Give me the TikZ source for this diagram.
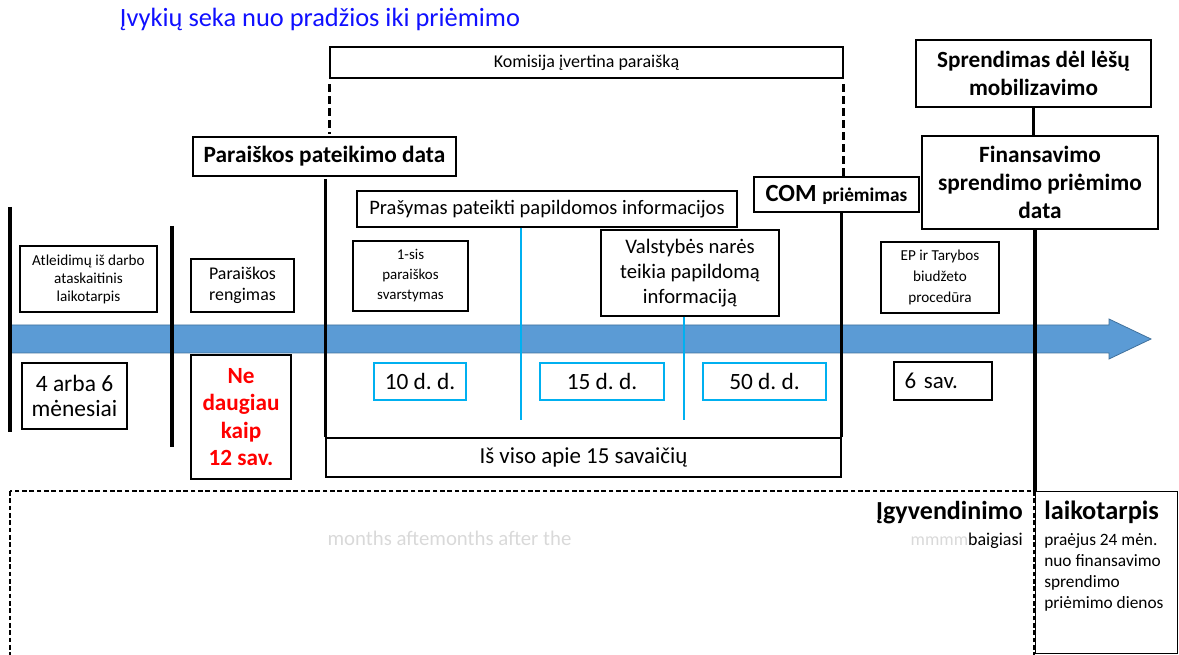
\documentclass[tikz,border=0pt]{standalone}
\usepackage{fontspec}
\setmainfont{Carlito}
\definecolor{band}{HTML}{5B9BD5}
\definecolor{bandedge}{HTML}{41719C}
\definecolor{lblue}{HTML}{00B0F0}
\definecolor{ghost}{gray}{0.85}
\definecolor{titleblue}{HTML}{1010FF}
\newcommand\myfs[2]{\fontsize{#1}{#2}\selectfont}
\frenchspacing
\begin{document}
\begin{tikzpicture}[x=0.75pt,y=-0.75pt,
  box/.style={draw, line width=1.1pt, inner sep=0pt, align=center},
  bbox/.style={draw=lblue, line width=1.2pt, inner sep=0pt, align=center},
  vline/.style={line width=2.3pt},
  dline/.style={line width=2.3pt, dash pattern=on 6pt off 3pt},
  bline/.style={draw=lblue, line width=2.2pt}]
\useasboundingbox (0,0) rectangle (1179,655);
\begin{scope}
\clip (0,0) rectangle (1179,655);
\draw[line width=1pt, dash pattern=on 3.5pt off 2pt] (10,491) rectangle (1034,700);
\end{scope}

\node[text=titleblue, font=\myfs{19.8}{23}] (title) at (320,19) {Įvykių seka nuo pradžios iki priėmimo};

% timeline arrow
\filldraw[fill=band, draw=bandedge, line width=0.6pt]
  (10,325) -- (1109,325) -- (1109,319) -- (1151,339) -- (1109,359) -- (1109,353) -- (10,353) -- cycle;

% upper boxes
\node[box, font=\myfs{13.5}{16}, minimum width=384.75pt, minimum height=23.25pt] (kom) at (586.5,62.5) {Komisija įvertina paraišką};
\node[box, font=\bfseries\myfs{17.5}{21}, minimum width=197.25pt, minimum height=29.25pt] (ppd) at (324.5,156.5) {Paraiškos pateikimo data};
\node[box, font=\myfs{15.4}{18}, minimum width=285pt, minimum height=27pt] (pra) at (547,209) {Prašymas pateikti papildomos informacijos};
\node[box, font=\bfseries\myfs{18.5}{21}, minimum width=123.75pt, minimum height=26.25pt] (com) at (836.5,194.5) {COM {\myfs{14.5}{17}priėmimas}};
\node[box, font=\bfseries\myfs{17.4}{20.5}, minimum width=176.25pt, minimum height=50.25pt] (spr) at (1033.5,73.5) {Sprendimas dėl lėšų\\mobilizavimo};
\node[box, font=\bfseries\myfs{17.5}{21}, minimum width=177pt, minimum height=69.75pt] (fin) at (1040,182.5) {Finansavimo\\sprendimo priėmimo\\data};

% boxes above the arrow
\node[box, font=\myfs{11.4}{13.5}, minimum width=102.75pt, minimum height=49.5pt] (atl) at (88.5,279) {Atleidimų iš darbo\\ataskaitinis\\laikotarpis};
\node[box, font=\myfs{13.4}{16}, minimum width=77.25pt, minimum height=39.75pt] (ren) at (242.5,285.5) {Paraiškos\\rengimas};
\node[box, font=\myfs{11.2}{15}, minimum width=86.25pt, minimum height=52.5pt] (sis) at (410.5,276) {1-sis\\paraiškos\\svarstymas};
\node[box, font=\myfs{15.5}{18.75}, minimum width=133.5pt, minimum height=64.5pt] (val) at (690,273) {Valstybės narės\\teikia papildomą\\informaciją};
\node[box, font=\myfs{11.4}{15.75}, minimum width=88.5pt, minimum height=53.25pt] (ep) at (940,277.5) {EP ir Tarybos\\biudžeto\\procedūra};

% boxes below the arrow
\node[box, font=\myfs{17.6}{18.5}, minimum width=78.75pt, minimum height=49.5pt] (men) at (74.5,396) {4 arba 6\\mėnesiai};
\node[box, text=red, font=\bfseries\myfs{17.4}{20.6}, minimum width=75pt, minimum height=93pt] (ned) at (241,417) {Ne\\daugiau\\kaip\\12 sav.};
\node[bbox, font=\myfs{17.5}{19}, minimum width=69pt, minimum height=27.75pt] (d10) at (420,381.5) {10 d. d.};
\node[bbox, font=\myfs{17.5}{19}, minimum width=93pt, minimum height=27.75pt] (d15) at (602,381.5) {15 d. d.};
\node[bbox, font=\myfs{17.5}{19}, minimum width=92.25pt, minimum height=27.75pt] (d50) at (764.5,381.5) {50 d. d.};
\node[box, font=\myfs{17.2}{19}, minimum height=28.5pt, inner xsep=8pt, text width=57.5pt, align=left] (sav6) at (943,381) {6 sav.};
\node[box, font=\myfs{17.2}{19}, minimum width=386.25pt, minimum height=29.25pt] (isv) at (583.5,457.5) {Iš viso apie 15 savaičių};

% implementation period
\node[draw, line width=0.8pt, inner sep=0pt, minimum width=106.5pt, minimum height=121.5pt, anchor=north west] (laibox) at (1035,491) {};
\node[anchor=base east, font=\bfseries\myfs{19.5}{22}, inner sep=0pt] (igy) at (1023,520) {Įgyvendinimo};
\node[anchor=base east, font=\myfs{13.5}{16}, inner sep=0pt] (baig) at (1023,546) {\textcolor{ghost}{mmmm}baigiasi};
\node[anchor=base west, font=\bfseries\myfs{19.8}{22}, inner sep=0pt] (lait) at (1044,520) {laikotarpis};
\node[anchor=north west, font=\myfs{13}{15.75}, inner sep=0pt, align=left] (laib) at (1044,533) {praėjus 24 mėn.\\nuo finansavimo\\sprendimo\\priėmimo dienos};
\node[anchor=base, font=\myfs{15.6}{18}, text=ghost, inner sep=0pt] (gh) at (449.5,546) {months aftemonths after the};

% free ends
\coordinate (l0t) at (10,207); \coordinate (l0b) at (10,432);
\coordinate (l1t) at (172,226); \coordinate (l1b) at (172,447);
\coordinate (b1) at (521,420); \coordinate (b2) at (684,420);

% vertical lines
\draw[vline] (l0t) -- (l0b);
\draw[vline] (l1t) -- (l1b);
\draw[dline, shorten <=4pt, shorten >=2pt] (kom.south west) -- (kom.south west |- ppd.north);
\draw[vline, shorten <=2pt] (ppd.south -| isv.north west) -- (isv.north west);
\draw[dline, shorten <=4pt] (kom.south east) -- (kom.south east |- com.north);
\draw[vline] (com.south -| isv.north east) -- (isv.north east);
\draw[vline] (spr.south) -- (spr.south |- fin.north);
\draw[vline] (fin.south -| laibox.north west) -- (laibox.north west);
\draw[bline] (pra.south -| b1) -- (b1);
\draw[bline] (val.south -| b2) -- (b2);
\end{tikzpicture}
\end{document}
